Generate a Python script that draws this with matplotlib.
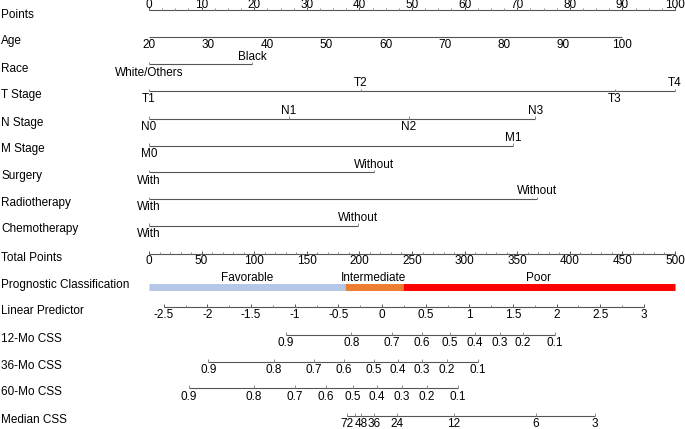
import matplotlib
matplotlib.use("Agg")
import matplotlib.pyplot as plt
import numpy as np

plt.rcParams['font.family'] = ['Liberation Sans', 'DejaVu Sans']

# ---------------- data ----------------
row_labels = ["Points", "Age", "Race", "T Stage", "N Stage", "M Stage", "Surgery",
              "Radiotherapy", "Chemotherapy", "Total Points", "Prognostic Classification",
              "Linear Predictor", "12-Mo CSS", "36-Mo CSS", "60-Mo CSS", "Median CSS"]

points_ticks = [0, 10, 20, 30, 40, 50, 60, 70, 80, 90, 100]

age_values = [20, 30, 40, 50, 60, 70, 80, 90, 100]
age_points = [0, 11.25, 22.5, 33.75, 45, 56.25, 67.5, 78.75, 90]

race_levels = ["White/Others", "Black"]
race_points = [0, 19.6]

t_levels = ["T1", "T2", "T3", "T4"]
t_points = [0, 40.3, 88.6, 100]

n_levels = ["N0", "N1", "N2", "N3"]
n_points = [0, 26.6, 49.4, 73.4]

m_levels = ["M0", "M1"]
m_points = [0, 69.2]

surgery_levels = ["With", "Without"]
surgery_points = [0, 42.8]

radio_levels = ["With", "Without"]
radio_points = [0, 73.8]

chemo_levels = ["With", "Without"]
chemo_points = [0, 39.7]

total_ticks = [0, 50, 100, 150, 200, 250, 300, 350, 400, 450, 500]

class_labels = ["Favorable", "Intermediate", "Poor"]
class_bounds = [0, 186, 241, 500]          # in total points
class_colors = ["#B4C7E7", "#ED7D31", "#FF0000"]

lp_ticks = [-2.5, -2, -1.5, -1, -0.5, 0, 0.5, 1, 1.5, 2, 2.5, 3]
lp_tick_labels = ["-2.5", "-2", "-1.5", "-1", "-0.5", "0", "0.5", "1", "1.5", "2", "2.5", "3"]
lp_zero_total = 221.5      # total points where LP = 0
lp_per_unit_total = 83.0   # total points per LP unit

surv_labels = ["0.9", "0.8", "0.7", "0.6", "0.5", "0.4", "0.3", "0.2", "0.1"]
css12_lp = [-1.10, -0.35, 0.11, 0.455, 0.78, 1.065, 1.35, 1.61, 1.98]
css36_lp = [-1.99, -1.24, -0.78, -0.435, -0.09, 0.18, 0.46, 0.745, 1.10]
css60_lp = [-2.21, -1.47, -1.00, -0.64, -0.33, -0.06, 0.23, 0.515, 0.87]

median_labels = ["72", "", "48", "36", "24", "12", "6", "3"]
median_lp = [-0.40, -0.31, -0.24, -0.09, 0.17, 0.825, 1.76, 2.44]

# ---------------- layout ----------------
W, H = 685, 429
fig = plt.figure(figsize=(W / 100, H / 100), dpi=100)
ax = fig.add_axes([0, 0, 1, 1])
ax.set_xlim(-149 / 5.26, (W - 149) / 5.26)
ax.set_ylim(H, 0)
ax.axis("off")

FS = 8.5
LC = "#555555"
TC = "#888888"
LW = 0.8

label_y = [15, 41, 69, 95, 123, 149, 176, 203, 229, 258, 285, 311, 339, 366, 392, 420]
for lab, y in zip(row_labels, label_y):
    ax.text(1 * 130.23 / W - 149 / 5.26, y, lab, fontsize=FS, va="center", ha="left")


def hline(x0, x1, y):
    ax.plot([x0, x1], [y, y], color=LC, lw=LW, solid_capstyle="butt")


def ticks(xs, y, length=2.5, color=TC):
    ax.vlines(xs, y - length, y, color=color, lw=0.7)


# Points axis
y_pts = 9.5
hline(0, 100, y_pts)
ticks(np.arange(0, 100.01, 2.5), y_pts, 2.0)
ticks(points_ticks, y_pts, 3.0, LC)
for v in points_ticks:
    ax.text(v, 4.5, str(v), fontsize=FS, ha="center", va="center")

# Age
y_age = 37
hline(age_points[0], age_points[-1], y_age)
for v, p in zip(age_values, age_points):
    ax.text(p, y_age + 8.5, str(v), fontsize=FS, ha="center", va="center")


def cat_axis(levels, pts, y):
    hline(min(pts), max(pts), y)
    ticks(pts, y, 2.5)
    order = np.argsort(pts)
    for k, i in enumerate(order):
        below = (k % 2 == 0)
        ax.text(pts[i], y + 8.5 if below else y - 7.5, levels[i], fontsize=FS,
                ha="center", va="center")


cat_axis(race_levels, race_points, 64)
cat_axis(t_levels, t_points, 91)
cat_axis(n_levels, n_points, 118.5)
cat_axis(m_levels, m_points, 145.5)
cat_axis(surgery_levels, surgery_points, 172)
cat_axis(radio_levels, radio_points, 199)
cat_axis(chemo_levels, chemo_points, 225.5)

# Total points axis (x in points = total / 5)
y_tot = 254
hline(0, 100, y_tot)
ticks(np.arange(0, 500.1, 10) / 5, y_tot, 2.0)
ticks(np.array(total_ticks) / 5, y_tot, 3.0, LC)
for v in total_ticks:
    ax.text(v / 5, y_tot + 7.5, str(v), fontsize=FS, ha="center", va="center")

# Prognostic classification bar
y_bar = 287
for i, (lab, col) in enumerate(zip(class_labels, class_colors)):
    a, b = class_bounds[i] / 5, class_bounds[i + 1] / 5
    ax.plot([a, b], [y_bar, y_bar], color=col, lw=5.0, solid_capstyle="butt")
    ax.text((a + b) / 2, y_bar - 9, lab, fontsize=FS, ha="center", va="center")


def lp_to_x(lp):
    return (lp_zero_total + lp_per_unit_total * np.asarray(lp, dtype=float)) / 5


# Linear predictor
y_lp = 306.5
hline(lp_to_x(lp_ticks[0]), lp_to_x(lp_ticks[-1]), y_lp)
ticks(lp_to_x(np.arange(-2.5, 3.01, 0.25)), y_lp, 2.0)
ticks(lp_to_x(lp_ticks), y_lp, 3.0, LC)
for v, s in zip(lp_ticks, lp_tick_labels):
    ax.text(lp_to_x(v), y_lp + 8.5, s, fontsize=FS, ha="center", va="center")


def scale_axis(lps, labels, y):
    xs = lp_to_x(lps)
    hline(xs.min(), xs.max(), y)
    ticks(xs, y, 3.0)
    for x, s in zip(xs, labels):
        if s:
            ax.text(x, y + 8.5, s, fontsize=FS, ha="center", va="center")


scale_axis(css12_lp, surv_labels, 334.5)
scale_axis(css36_lp, surv_labels, 361.5)
scale_axis(css60_lp, surv_labels, 388)
scale_axis(median_lp, median_labels, 415.5)

fig.savefig("out.png", dpi=100)
